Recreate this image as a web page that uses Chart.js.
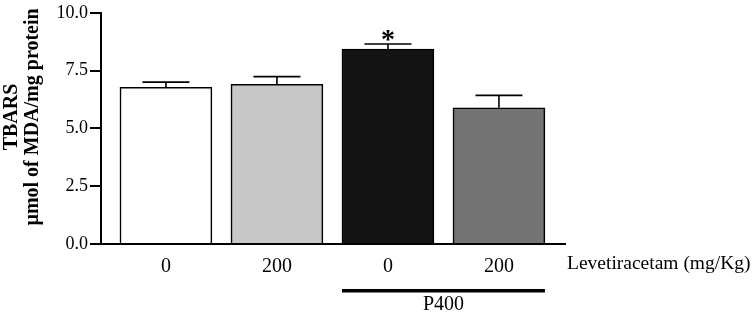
<!DOCTYPE html>
<html><head><meta charset="utf-8">
<script src="https://cdn.jsdelivr.net/npm/chart.js@4"></script>
<style>html,body{margin:0;padding:0;background:#fff}#wrap{width:752px;height:313px}</style>
</head><body><div id="wrap"><canvas id="c" width="752" height="313"></canvas></div>
<script>
const categories = ['0', '200', '0', '200'];
const means = [6.78, 6.91, 8.43, 5.89];
const sems = [0.22, 0.33, 0.22, 0.54];
const barColors = ['#ffffff', '#c8c8c8', '#141414', '#737373'];
const yTicks = [0, 2.5, 5, 7.5, 10];
const xTitle = 'Levetiracetam (mg/Kg)';
const groupLabel = 'P400';
const yTitle = ['TBARS', 'µmol of MDA/mg protein'];
const sigMarks = ['', '', '*', ''];

const FONT = '"Liberation Serif", "Times New Roman", serif';

const extras = {
  id: 'extras',
  afterDatasetsDraw(chart) {
    const ctx = chart.ctx;
    const meta = chart.getDatasetMeta(0);
    const y = chart.scales.y;
    ctx.save();
    ctx.strokeStyle = '#000';
    ctx.lineWidth = 1.6;
    meta.data.forEach((bar, i) => {
      const yTop = y.getPixelForValue(means[i] + sems[i]);
      const yBar = y.getPixelForValue(means[i]);
      ctx.beginPath();
      ctx.moveTo(bar.x, yBar);
      ctx.lineTo(bar.x, yTop);
      ctx.moveTo(bar.x - 23.5, yTop);
      ctx.lineTo(bar.x + 23.5, yTop);
      ctx.stroke();
      if (sigMarks[i]) {
        ctx.fillStyle = '#000';
        ctx.font = 'bold 28px ' + FONT;
        ctx.textAlign = 'center';
        ctx.textBaseline = 'middle';
        ctx.fillText(sigMarks[i], bar.x, yTop - 3);
      }
    });
    ctx.fillStyle = '#000';
    ctx.save();
    ctx.font = 'bold 20px ' + FONT;
    ctx.textAlign = 'center';
    ctx.textBaseline = 'middle';
    ctx.translate(0, 117);
    ctx.rotate(-Math.PI / 2);
    ctx.fillText(yTitle[0], 0, 12);
    ctx.fillText(yTitle[1], 0, 33);
    ctx.restore();
    ctx.font = '19.5px ' + FONT;
    ctx.textAlign = 'left';
    ctx.textBaseline = 'middle';
    ctx.fillText(xTitle, chart.chartArea.right + 2, 264);
    const b2 = meta.data[2], b3 = meta.data[3];
    const x0 = b2.x - b2.width / 2, x1 = b3.x + b3.width / 2;
    ctx.fillRect(x0, 289, x1 - x0, 3.5);
    ctx.font = '20px ' + FONT;
    ctx.textAlign = 'center';
    ctx.fillText(groupLabel, (x0 + x1) / 2, 305);
    ctx.restore();
  }
};

new Chart(document.getElementById('c'), {
  type: 'bar',
  data: {
    datasets: [{
      data: means.map((v, i) => ({x: i, y: v})),
      backgroundColor: barColors,
      borderColor: '#000',
      borderWidth: 1.6,
      barThickness: 92
    }]
  },
  options: {
    responsive: false,
    animation: false,
    events: [],
    layout: {padding: {top: 7, right: 187, left: 0, bottom: 0}},
    plugins: {legend: {display: false}, tooltip: {enabled: false}},
    scales: {
      x: {
        type: 'linear',
        offset: false,
        bounds: 'ticks',
        min: -0.585,
        max: 3.595,
        afterBuildTicks(s) { s.ticks = categories.map((c, i) => ({value: i})); },
        afterFit(s) { s.height = 69; },
        grid: {display: false, drawTicks: false, offset: false},
        border: {display: true, color: '#000', width: 2},
        ticks: {
          callback: (v) => categories[v],
          color: '#000',
          font: {family: FONT, size: 20},
          padding: 11,
          maxRotation: 0,
          autoSkip: false
        }
      },
      y: {
        min: 0,
        max: 10,
        afterBuildTicks(s) { s.ticks = yTicks.map(v => ({value: v})); },
        afterFit(s) { s.width = 101; },
        grid: {drawOnChartArea: false, drawTicks: true, tickLength: 11, color: '#000', lineWidth: 2},
        border: {display: true, color: '#000', width: 2},
        ticks: {
          callback: (v) => v.toFixed(1),
          color: '#000',
          font: {family: FONT, size: 18},
          padding: 2
        },
        title: {display: false}
      }
    }
  },
  plugins: [extras]
});
</script>
</body></html>
